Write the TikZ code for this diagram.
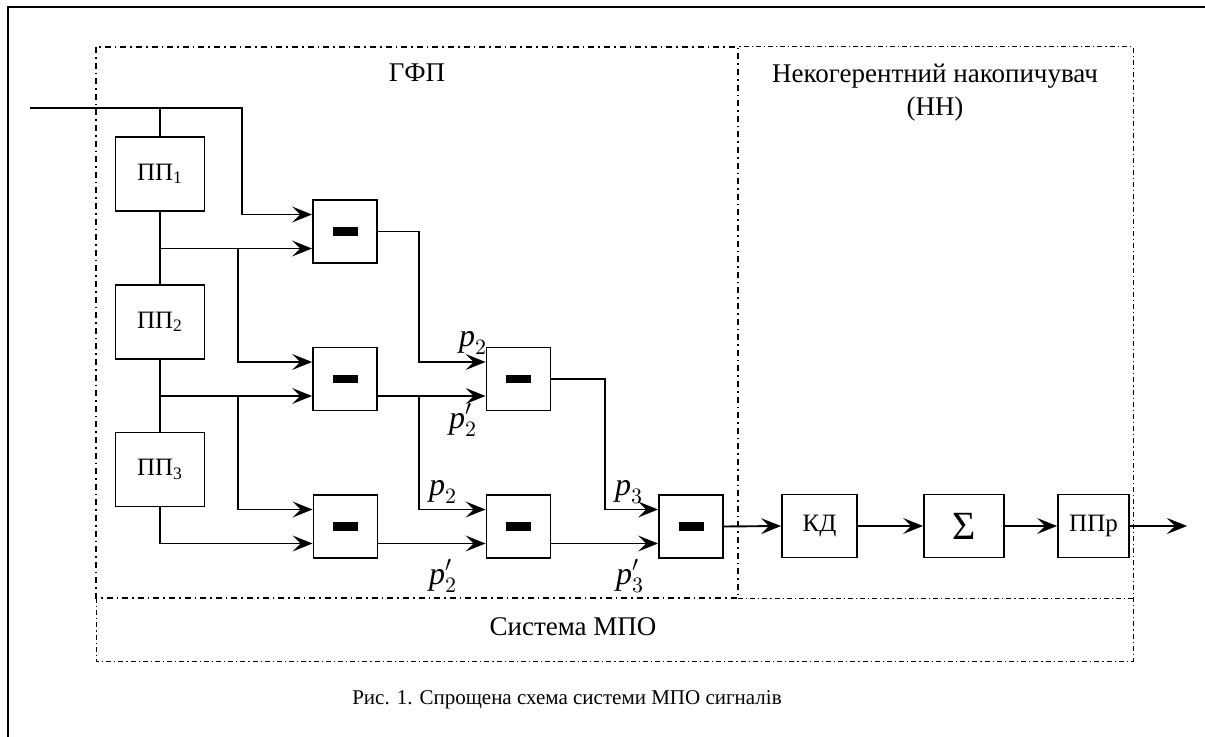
\documentclass[tikz,border=0pt]{standalone}
\usepackage{fontspec}
\setmainfont{Liberation Serif}
\usetikzlibrary{arrows.meta,calc}

\newcommand{\minusbar}{\rule{12.5pt}{4.2pt}}

\begin{document}
\begin{tikzpicture}[
  x=0.5pt, y=-0.5pt,
  wire/.style={line width=0.95pt},
  arr/.style={wire, -{Stealth[length=10pt,width=8pt,inset=4pt]}},
  ppbox/.style={rectangle, draw, line width=0.95pt, minimum width=44.5pt, minimum height=37pt, inner sep=0pt, font=\fontsize{12.5}{14}\selectfont},
  diffbox/.style={rectangle, draw, line width=0.95pt, minimum width=32pt, minimum height=31.5pt, inner sep=0pt},
  outbox/.style={rectangle, draw, line width=0.95pt, minimum height=31.5pt, inner sep=0pt, font=\fontsize{12.5}{14}\selectfont},
  thickdd/.style={line width=0.9pt, dash pattern=on 3pt off 2pt on 0.8pt off 2pt},
  thindd/.style={line width=0.5pt, dash pattern=on 2.5pt off 1.5pt on 0.6pt off 1.5pt},
  title/.style={font=\fontsize{13.5}{16.5}\selectfont, align=center},
  plabel/.style={font=\fontsize{16}{18}\selectfont, inner sep=0pt},
]
\useasboundingbox (0,0) rectangle (1205,737);
\draw[line width=1pt] (8,737) |- (1205,7);

\draw[thindd] (96,598) |- (1133,661) |- (738,47);
\draw[thindd] (738,598) -- (1133,598);
\draw[thickdd] (96,47) rectangle (738,598);

\node[title] (gfp) at (417,73) {ГФП};
\node[title] (nn) at (935,93) {Некогерентний накопичувач\\(НН)};
\node[title] (mpo) at (573,627) {Система МПО};
\node[font=\fontsize{10.5}{13}\selectfont] (caption) at (567,700) {Рис. 1. Спрощена схема системи МПО сигналів};

\node[ppbox] (pp1) at (160,174) {ПП\textsubscript{1}};
\node[ppbox] (pp2) at (160,322) {ПП\textsubscript{2}};
\node[ppbox] (pp3) at (160,469.5) {ПП\textsubscript{3}};

\node[diffbox] (d1) at (345,231.5) {\minusbar};
\node[diffbox] (d2) at (345,379) {\minusbar};
\node[diffbox] (d3) at (345.5,526.5) {\minusbar};
\node[diffbox] (d4) at (518.5,379) {\minusbar};
\node[diffbox] (d5) at (518.5,526.5) {\minusbar};
\node[diffbox] (d6) at (691,526.5) {\minusbar};

\node[outbox, minimum width=37.5pt] (kd) at (819.5,526) {КД};
\node[outbox, minimum width=40pt, font=\fontsize{20}{22}\selectfont] (sum) at (964,526) {Σ};
\node[outbox, minimum width=35.5pt] (ppr) at (1093.5,526) {ППр};

\coordinate (in) at (30,108);
\coordinate (out) at (1187,526);
\coordinate (bus1) at (238,0);
\coordinate (bus2) at (419,0);
\coordinate (bus3) at (605,0);
\foreach \d in {d1,d2,d3,d4,d5,d6}{
  \coordinate (\d-a) at ([yshift=8.5pt]\d.west);
  \coordinate (\d-b) at ([yshift=-8.5pt]\d.west);
}

\draw[arr] (in) -- (242,108) |- (d1-a);
\draw[wire] (pp1.north) -- (pp1.north |- in);
\draw[wire] (pp1.south) -- (pp2.north);
\draw[wire] (pp2.south) -- (pp3.north);
\draw[arr] (pp1.south |- d1-b) -- (d1-b);
\draw[arr] (bus1 |- d1-b) |- (d2-a);
\draw[arr] (pp2.south |- d2-b) -- (d2-b);
\draw[arr] (bus1 |- d2-b) |- (d3-a);
\draw[arr] (pp3.south) |- (d3-b);

\draw[arr] (d1.east) -| (bus2 |- d4-a) -- (d4-a);
\draw[arr] (d2.east |- d2-b) -- (d4-b);
\draw[arr] (bus2 |- d2-b) |- (d5-a);
\draw[arr] (d3.east |- d3-b) -- (d5-b);
\draw[arr] (d5.east |- d5-b) -- (d6-b);
\draw[arr] (d4.east) -| (bus3 |- d6-a) -- (d6-a);

\draw[arr] (d6.east) -- (kd.west);
\draw[arr] (kd) -- (sum);
\draw[arr] (sum) -- (ppr);
\draw[arr] (ppr) -- (out);

\node[plabel] (p2a) at (473,343) {$\textit{p}_2$};
\node[plabel] (p2b) at (463,420) {$\textit{p}_2^{\prime}$};
\node[plabel] (p2c) at (443,492) {$\textit{p}_2$};
\node[plabel] (p2d) at (443,576) {$\textit{p}_2^{\prime}$};
\node[plabel] (p3a) at (629,492) {$\textit{p}_3$};
\node[plabel] (p3b) at (630,576) {$\textit{p}_3^{\prime}$};
\end{tikzpicture}
\end{document}
